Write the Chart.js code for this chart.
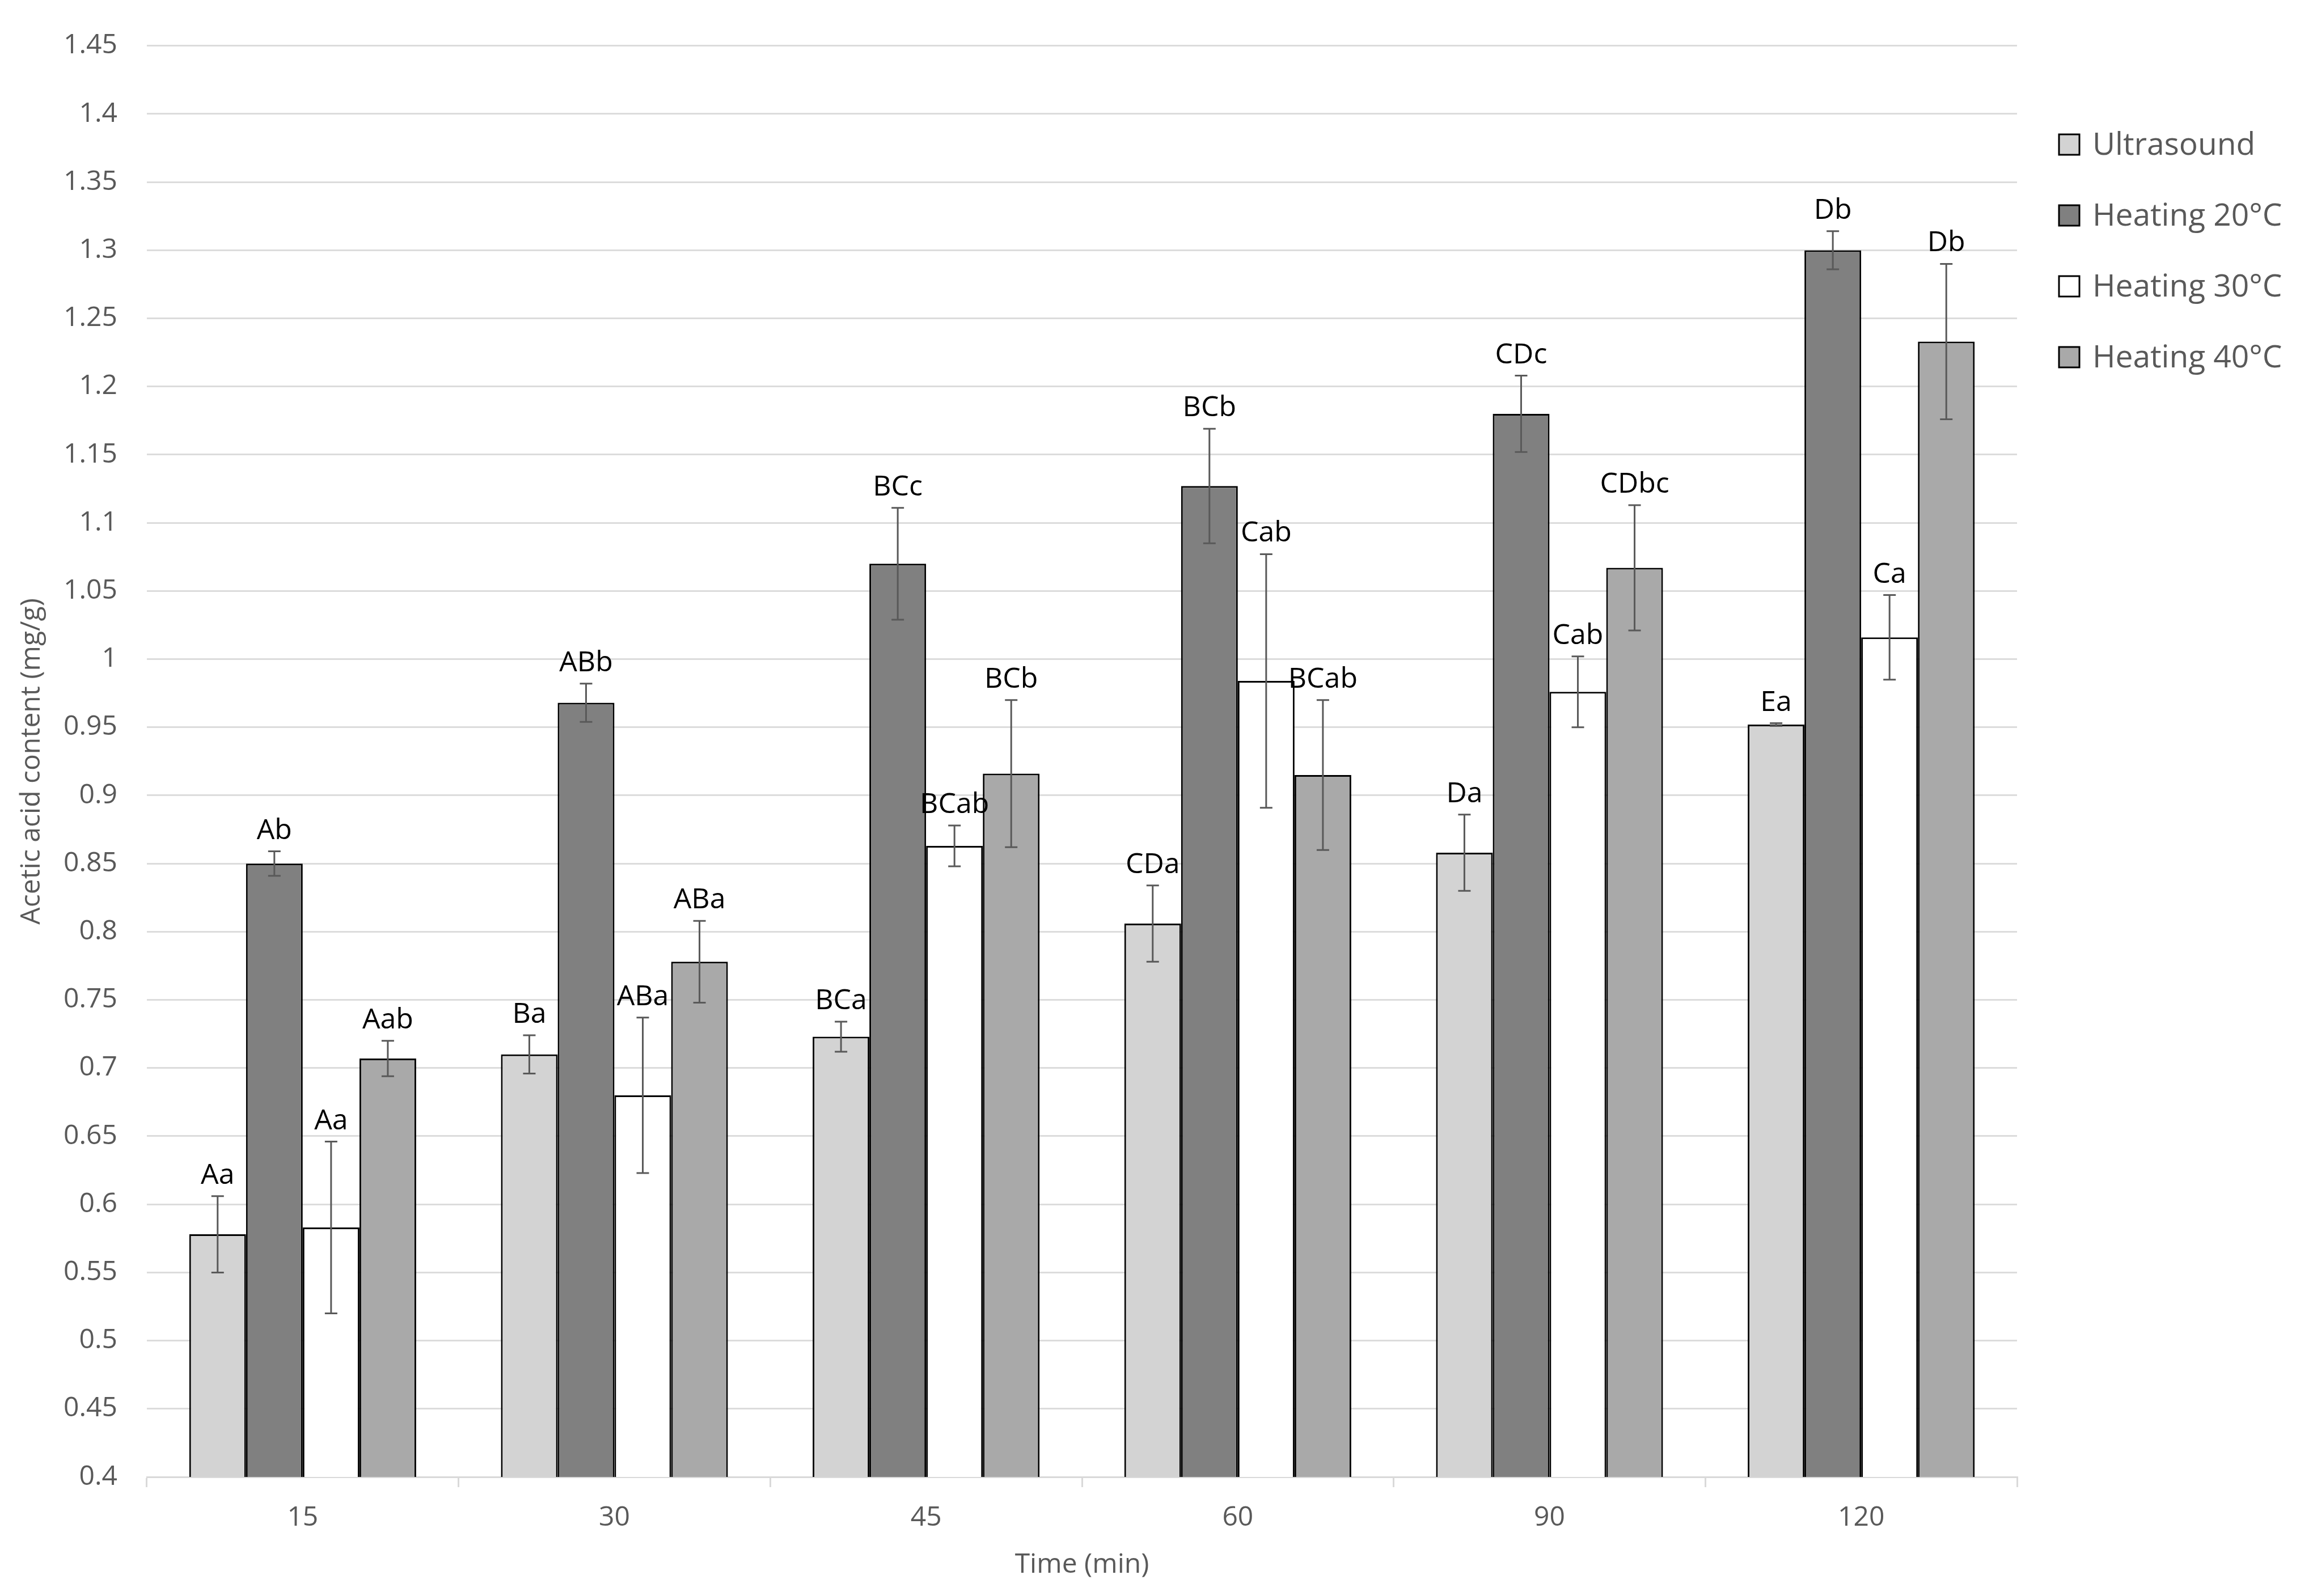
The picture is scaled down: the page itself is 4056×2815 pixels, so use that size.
<!DOCTYPE html>
<html>
<head>
<meta charset="utf-8">
<script src="https://cdn.jsdelivr.net/npm/chart.js@4/dist/chart.umd.min.js"></script>
<style>
  html, body { margin: 0; padding: 0; background: #ffffff; }
  #wrap { width: 4056px; height: 2815px; position: relative; }
</style>
</head>
<body>
<div id="wrap"><canvas id="c" width="4056" height="2815"></canvas></div>
<script>
// ---- data ----
const categories = ['15', '30', '45', '60', '90', '120'];
const seriesNames = ['Ultrasound', 'Heating 20°C', 'Heating 30°C', 'Heating 40°C'];

const ultrasound = [0.578, 0.710, 0.723, 0.806, 0.858, 0.952];
const heating20 = [0.850, 0.968, 1.070, 1.127, 1.180, 1.300];
const heating30 = [0.583, 0.680, 0.863, 0.984, 0.976, 1.016];
const heating40 = [0.707, 0.778, 0.916, 0.915, 1.067, 1.233];

const ultrasoundErr = [0.028, 0.014, 0.011, 0.028, 0.028, 0.001];
const heating20Err = [0.009, 0.014, 0.041, 0.042, 0.028, 0.014];
const heating30Err = [0.063, 0.057, 0.015, 0.093, 0.026, 0.031];
const heating40Err = [0.013, 0.030, 0.054, 0.055, 0.046, 0.057];

const ultrasoundLetters = ['Aa', 'Ba', 'BCa', 'CDa', 'Da', 'Ea'];
const heating20Letters = ['Ab', 'ABb', 'BCc', 'BCb', 'CDc', 'Db'];
const heating30Letters = ['Aa', 'ABa', 'BCab', 'Cab', 'Cab', 'Ca'];
const heating40Letters = ['Aab', 'ABa', 'BCb', 'BCab', 'CDbc', 'Db'];

const yTickValues = [0.4, 0.45, 0.5, 0.55, 0.6, 0.65, 0.7, 0.75, 0.8, 0.85, 0.9, 0.95, 1, 1.05, 1.1, 1.15, 1.2, 1.25, 1.3, 1.35, 1.4, 1.45];
const yTickLabels = ['0.4', '0.45', '0.5', '0.55', '0.6', '0.65', '0.7', '0.75', '0.8', '0.85', '0.9', '0.95', '1', '1.05', '1.1', '1.15', '1.2', '1.25', '1.3', '1.35', '1.4', '1.45'];

const xTitle = 'Time (min)';
const yTitle = 'Acetic acid content (mg/g)';

// ---- styling ----
const FONT = "'Open Sans', 'Noto Sans', sans-serif";
const fills = ['#d3d3d3', '#808080', '#ffffff', '#a9a9a9'];
const seriesValues = [ultrasound, heating20, heating30, heating40];
const seriesErrors = [ultrasoundErr, heating20Err, heating30Err, heating40Err];
const seriesLetters = [ultrasoundLetters, heating20Letters, heating30Letters, heating40Letters];

const datasets = seriesNames.map((name, i) => ({
  label: name,
  data: seriesValues[i],
  errors: seriesErrors[i],
  letters: seriesLetters[i],
  backgroundColor: fills[i],
  borderColor: '#000000',
  borderWidth: 3,
  categoryPercentage: 0.728,
  barPercentage: 1.0
}));

const errorBarsAndLetters = {
  id: 'errorBarsAndLetters',
  afterDatasetsDraw(chart) {
    const ctx = chart.ctx;
    const y = chart.scales.y;
    chart.data.datasets.forEach((ds, di) => {
      const meta = chart.getDatasetMeta(di);
      meta.data.forEach((bar, i) => {
        const v = ds.data[i];
        const e = ds.errors[i];
        const yt = y.getPixelForValue(v + e);
        const yb = y.getPixelForValue(v - e);
        const x = bar.x;
        ctx.save();
        ctx.strokeStyle = '#595959';
        ctx.lineWidth = 3;
        ctx.beginPath();
        ctx.moveTo(x, yt); ctx.lineTo(x, yb);
        ctx.moveTo(x - 11, yt); ctx.lineTo(x + 11, yt);
        ctx.moveTo(x - 11, yb); ctx.lineTo(x + 11, yb);
        ctx.stroke();
        ctx.fillStyle = '#000000';
        ctx.font = '50px ' + FONT;
        ctx.textAlign = 'center';
        ctx.textBaseline = 'alphabetic';
        ctx.fillText(ds.letters[i], x, yt - 22);
        ctx.restore();
      });
    });
  }
};

const customLegend = {
  id: 'customLegend',
  afterDraw(chart) {
    const ctx = chart.ctx;
    chart.data.datasets.forEach((ds, i) => {
      const cy = 255 + i * 125;
      const bx = 3631;
      ctx.save();
      ctx.fillStyle = ds.backgroundColor;
      ctx.fillRect(bx, cy - 18, 36, 36);
      ctx.strokeStyle = '#000000';
      ctx.lineWidth = 3;
      ctx.strokeRect(bx, cy - 18, 36, 36);
      ctx.fillStyle = '#595959';
      ctx.font = '55px ' + FONT;
      ctx.textAlign = 'left';
      ctx.textBaseline = 'middle';
      ctx.fillText(ds.label, 3690, cy + 2);
      ctx.restore();
    });
  }
};

new Chart(document.getElementById('c'), {
  type: 'bar',
  data: { labels: categories, datasets: datasets },
  options: {
    responsive: false,
    animation: false,
    devicePixelRatio: 1,
    layout: { padding: { top: 72, right: 499, bottom: 0, left: 0 } },
    plugins: {
      legend: { display: false },
      tooltip: { enabled: false }
    },
    scales: {
      x: {
        afterFit(s) { s.height = 210; },
        grid: {
          display: true,
          drawOnChartArea: false,
          drawTicks: true,
          tickLength: 18,
          color: '#d9d9d9',
          lineWidth: 3,
          offset: true
        },
        border: { display: true, color: '#d9d9d9', width: 3 },
        ticks: {
          color: '#595959',
          font: { family: FONT, size: 48 },
          padding: 26
        },
        title: {
          display: true,
          text: xTitle,
          color: '#595959',
          font: { family: FONT, size: 48 },
          padding: { top: 0, bottom: 26 }
        }
      },
      y: {
        min: 0.4,
        max: 1.45,
        afterFit(s) { s.width = 259; },
        afterBuildTicks(s) { s.ticks = yTickValues.map(v => ({ value: v })); },
        grid: {
          color: '#dcdcdc',
          lineWidth: 3,
          drawTicks: false
        },
        border: { display: false },
        ticks: {
          color: '#595959',
          font: { family: FONT, size: 48 },
          padding: 52,
          callback: (v, idx) => yTickLabels[idx]
        },
        title: {
          display: true,
          text: yTitle,
          color: '#595959',
          font: { family: FONT, size: 48 },
          padding: { top: 28, bottom: 0 }
        }
      }
    }
  },
  plugins: [errorBarsAndLetters, customLegend]
});
</script>
</body>
</html>
